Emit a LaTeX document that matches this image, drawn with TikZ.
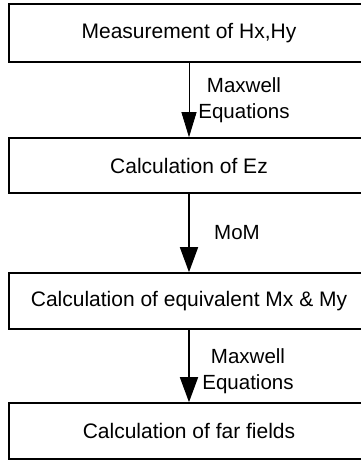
\documentclass[tikz,border=0pt]{standalone}
\usepackage{fontspec}
\setmainfont{Liberation Sans}
\usetikzlibrary{arrows.meta}
\begin{document}
\begin{tikzpicture}[x=1pt,y=-1pt,
  stagebox/.style={draw=black, line width=1.6pt, rectangle, minimum width=360pt, inner sep=0pt,
    font=\fontsize{21}{25}\selectfont},
  flowlabel/.style={align=center, inner sep=0pt, font=\fontsize{20.5}{26}\selectfont},
  thinarrow/.style={line width=0.8pt, -{Triangle[length=25pt,width=15pt]}},
  thickarrow/.style={line width=1.6pt, -{Triangle[length=25pt,width=18pt]}}]
\useasboundingbox (0,0) rectangle (361,461);
\clip (0,0) rectangle (361,461);
\node[stagebox, minimum height=58pt] (b1) at (189,33) {Measurement of Hx,Hy};
\node[stagebox, minimum height=55pt] (b2) at (189,165.5) {Calculation of Ez};
\node[stagebox, minimum height=56pt] (b3) at (189,301) {Calculation of equivalent Mx \& My};
\node[stagebox, minimum height=56pt] (b4) at (189,431) {Calculation of far fields};
\draw[thinarrow] (b1.south) -- (b2.north);
\draw[thickarrow] (b2.south) -- (b3.north);
\draw[thickarrow] (b3.south) -- (b4.north);
\node[flowlabel] (l1) at (244,100) {Maxwell\\Equations};
\node[flowlabel] (l2) at (237,233) {MoM};
\node[flowlabel] (l3) at (248,371) {Maxwell\\Equations};
\end{tikzpicture}
\end{document}
